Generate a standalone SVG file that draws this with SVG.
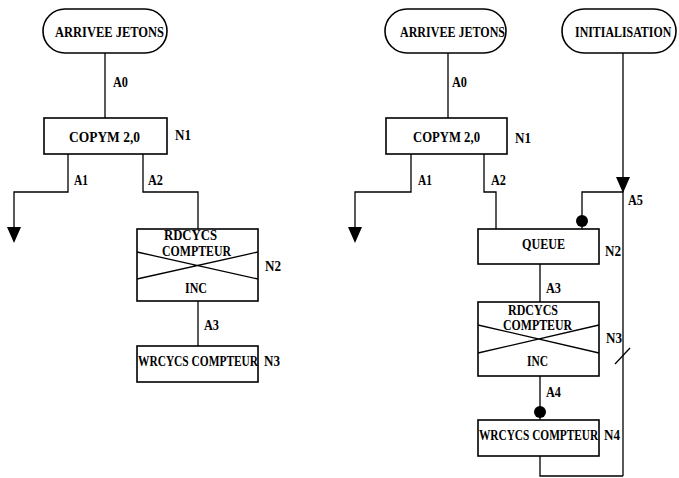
<svg xmlns="http://www.w3.org/2000/svg" width="679" height="478" viewBox="0 0 679 478">
  <style>
    .bg { fill: #ffffff; }
    .box { fill: none; stroke: #000; stroke-width: 1.6; }
    .ln { fill: none; stroke: #000; stroke-width: 1.3; }
    .t { font-family: "Liberation Serif", "Times New Roman", serif; font-weight: bold; font-size: 14px; fill: #000; }
    .dot { fill: #000; }
  </style>
  <defs>
    <polygon id="arrowDown" points="-7,0 7,0 0,16" fill="#000"/>
  </defs>
  <rect class="bg" x="0" y="0" width="679" height="478"/>

  <!-- Left network -->
  <g id="L_arrivee">
    <rect class="box" x="43" y="9" width="124" height="44" rx="22" ry="22"/>
    <text class="t" x="55" y="37" textLength="109" lengthAdjust="spacingAndGlyphs">ARRIVEE JETONS</text>
  </g>
  <g id="L_N1">
    <rect class="box" x="44" y="118" width="123" height="36"/>
    <text class="t" x="69" y="142" textLength="71" lengthAdjust="spacingAndGlyphs">COPYM 2,0</text>
    <text class="t" x="175" y="140" textLength="16" lengthAdjust="spacingAndGlyphs">N1</text>
  </g>
  <g id="L_N2">
    <rect class="box" x="137" y="229" width="121" height="72"/>
    <path class="ln" d="M137,252 L258,279 M137,279 L258,252"/>
    <text class="t" x="164" y="240" textLength="53" lengthAdjust="spacingAndGlyphs">RDCYCS</text>
    <text class="t" x="162" y="256" textLength="69" lengthAdjust="spacingAndGlyphs">COMPTEUR</text>
    <text class="t" x="185" y="293" textLength="22" lengthAdjust="spacingAndGlyphs">INC</text>
    <text class="t" x="265" y="271" textLength="16" lengthAdjust="spacingAndGlyphs">N2</text>
  </g>
  <g id="L_N3">
    <rect class="box" x="137" y="346" width="121" height="36"/>
    <text class="t" transform="translate(138,366) scale(0.815,1)">WRCYCS COMPTEUR</text>
    <text class="t" x="264" y="366" textLength="16" lengthAdjust="spacingAndGlyphs">N3</text>
  </g>

  <!-- Right network -->
  <g id="R_arrivee">
    <rect class="box" x="385" y="9" width="121" height="44" rx="22" ry="22"/>
    <text class="t" x="400" y="37" textLength="105" lengthAdjust="spacingAndGlyphs">ARRIVEE JETONS</text>
  </g>
  <g id="R_init">
    <rect class="box" x="562" y="9" width="114" height="44" rx="22" ry="22"/>
    <text class="t" transform="translate(575,37) scale(0.85,1)">INITIALISATION</text>
  </g>
  <g id="R_N1">
    <rect class="box" x="386" y="118" width="121" height="36"/>
    <text class="t" x="413" y="142" textLength="67" lengthAdjust="spacingAndGlyphs">COPYM 2,0</text>
    <text class="t" x="515" y="143" textLength="16" lengthAdjust="spacingAndGlyphs">N1</text>
  </g>
  <g id="R_N2">
    <rect class="box" x="478" y="229" width="121" height="35"/>
    <text class="t" x="522" y="249" textLength="43" lengthAdjust="spacingAndGlyphs">QUEUE</text>
    <text class="t" x="605" y="256" textLength="16" lengthAdjust="spacingAndGlyphs">N2</text>
  </g>
  <g id="R_N3">
    <rect class="box" x="478" y="302" width="121" height="74"/>
    <path class="ln" d="M478,325 L599,353 M478,353 L599,325"/>
    <text class="t" x="508" y="315" textLength="50" lengthAdjust="spacingAndGlyphs">RDCYCS</text>
    <text class="t" x="503" y="330" textLength="69" lengthAdjust="spacingAndGlyphs">COMPTEUR</text>
    <text class="t" x="527" y="366" textLength="21" lengthAdjust="spacingAndGlyphs">INC</text>
    <text class="t" x="606" y="343" textLength="16" lengthAdjust="spacingAndGlyphs">N3</text>
  </g>
  <g id="R_N4">
    <rect class="box" x="478" y="420" width="121" height="36"/>
    <text class="t" transform="translate(479,440) scale(0.81,1)">WRCYCS COMPTEUR</text>
    <text class="t" x="604" y="440" textLength="16" lengthAdjust="spacingAndGlyphs">N4</text>
  </g>

  <!-- Connectors -->
  <g id="connectors">
    <!-- left -->
    <path class="ln" d="M105,53 V118"/>
    <text class="t" x="113" y="87" textLength="15" lengthAdjust="spacingAndGlyphs">A0</text>
    <path class="ln" d="M68,154 V192 H14 V228"/>
    <use href="#arrowDown" x="14" y="227"/>
    <text class="t" x="74" y="185" textLength="14" lengthAdjust="spacingAndGlyphs">A1</text>
    <path class="ln" d="M143,154 V192 H198 V229"/>
    <text class="t" x="148" y="185" textLength="15" lengthAdjust="spacingAndGlyphs">A2</text>
    <path class="ln" d="M198,301 V346"/>
    <text class="t" x="204" y="330" textLength="15" lengthAdjust="spacingAndGlyphs">A3</text>

    <!-- right -->
    <path class="ln" d="M448,53 V118"/>
    <text class="t" x="452" y="87" textLength="15" lengthAdjust="spacingAndGlyphs">A0</text>
    <path class="ln" d="M411,154 V192 H355 V228"/>
    <use href="#arrowDown" x="355" y="227"/>
    <text class="t" x="418" y="185" textLength="14" lengthAdjust="spacingAndGlyphs">A1</text>
    <path class="ln" d="M484,154 V192 H496 V229"/>
    <text class="t" x="491" y="185" textLength="15" lengthAdjust="spacingAndGlyphs">A2</text>
    <path class="ln" d="M623,53 V476"/>
    <use href="#arrowDown" x="623" y="177"/>
    <path class="ln" d="M623,192 H582 V229"/>
    <circle class="dot" cx="582" cy="221" r="6"/>
    <text class="t" x="628" y="205" textLength="15" lengthAdjust="spacingAndGlyphs">A5</text>
    <path class="ln" d="M615,364 L630,348"/>
    <path class="ln" d="M540,264 V302"/>
    <text class="t" x="546" y="293" textLength="15" lengthAdjust="spacingAndGlyphs">A3</text>
    <path class="ln" d="M540,376 V420"/>
    <circle class="dot" cx="540" cy="412" r="6"/>
    <text class="t" x="546" y="397" textLength="15" lengthAdjust="spacingAndGlyphs">A4</text>
    <path class="ln" d="M540,456 V476 H623"/>
  </g>
</svg>
